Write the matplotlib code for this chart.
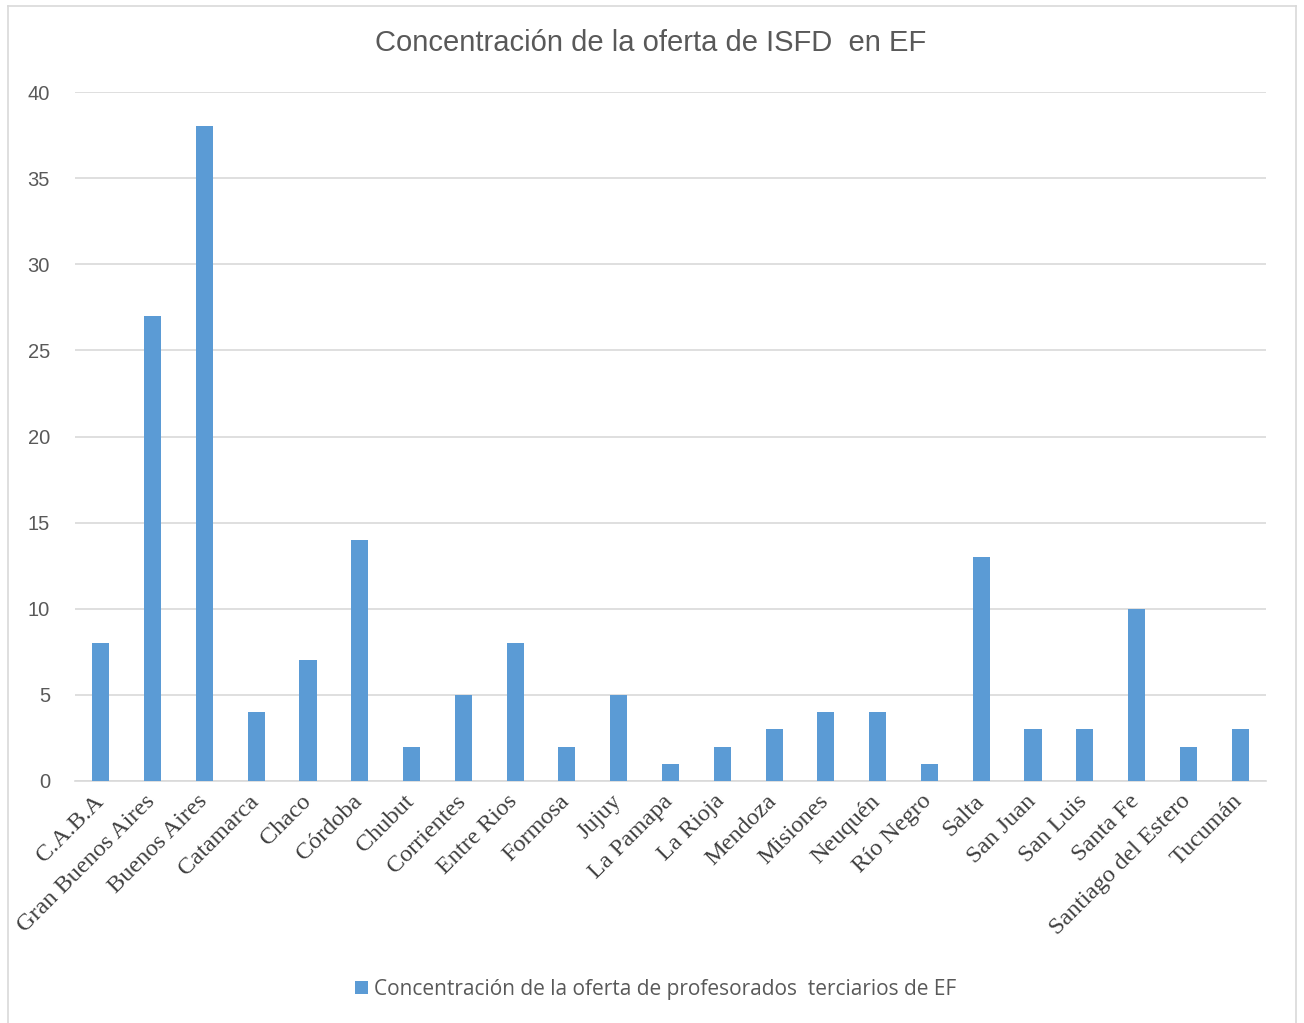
import matplotlib
matplotlib.use("Agg")
import matplotlib.pyplot as plt
import matplotlib.transforms as mtransforms
from matplotlib.lines import Line2D

categories = ["C.A.B.A", "Gran Buenos Aires", "Buenos Aires", "Catamarca", "Chaco",
              "Córdoba", "Chubut", "Corrientes", "Entre Rios", "Formosa", "Jujuy",
              "La Pamapa", "La Rioja", "Mendoza", "Misiones", "Neuquén", "Río Negro",
              "Salta", "San Juan", "San Luis", "Santa Fe", "Santiago del Estero", "Tucumán"]
values = [8, 27, 38, 4, 7, 14, 2, 5, 8, 2, 5, 1, 2, 3, 4, 4, 1, 13, 3, 3, 10, 2, 3]
yticks = [0, 5, 10, 15, 20, 25, 30, 35, 40]
title = "Concentración de la oferta de ISFD  en EF"
legend_label = "Concentración de la oferta de profesorados  terciarios de EF"

W, H = 1304, 1023
fig = plt.figure(figsize=(W / 100, H / 100), dpi=100)
fig.patch.set_facecolor("white")

# outer chart border (no bottom edge visible)
for xs, ys in [([8, 8], [1023, 6]), ([8, 1296], [6, 6]), ([1296, 1296], [6, 1023])]:
    fig.add_artist(Line2D([x / W for x in xs], [1 - y / H for y in ys],
                          color="#D9D9D9", lw=1.2, transform=fig.transFigure))

ax = fig.add_axes([75 / W, 1 - 781 / H, (1266 - 75) / W, (781 - 92) / H])
x = list(range(len(categories)))
bars = ax.bar(x, values, width=0.33, color="#5B9BD5", zorder=3, label=legend_label)
ax.set_xlim(-0.5, len(categories) - 0.5)
ax.set_ylim(0, 40)
ax.set_yticks(yticks)
ax.yaxis.grid(True, color="#D9D9D9", lw=1.2, zorder=0)
for s in ["top", "right", "left"]:
    ax.spines[s].set_visible(False)
ax.spines["bottom"].set_color("#D9D9D9")
ax.spines["bottom"].set_linewidth(1.2)
ax.tick_params(axis="y", length=0, pad=18, labelsize=14.5, labelcolor="#595959")
ax.tick_params(axis="x", length=0, pad=7)
for lab in ax.get_yticklabels():
    lab.set_family(["Liberation Sans", "DejaVu Sans"])
ax.set_xticks(x)
ax.set_xticklabels(categories, rotation=45, ha="right", va="top", rotation_mode="anchor",
                   family=["Liberation Serif", "DejaVu Serif"], fontsize=17.5, color="#404040")
offset = mtransforms.ScaledTranslation(-8 / 100, 0, fig.dpi_scale_trans)
for lab in ax.get_xticklabels():
    lab.set_transform(lab.get_transform() + offset)

fig.text(651 / W, 1 - 43 / H, title, ha="center", va="center", fontsize=21,
         color="#595959", family=["Liberation Sans", "DejaVu Sans"])

leg = fig.legend(handles=[bars], labels=[legend_label], loc="center",
                 bbox_to_anchor=(656 / W, 1 - 989 / H), frameon=False,
                 prop={"family": ["Open Sans", "DejaVu Sans"], "size": 15},
                 handlelength=0.6, handleheight=0.6, handletextpad=0.3)
for t in leg.get_texts():
    t.set_color("#595959")

fig.savefig("out.png", dpi=100, facecolor="white")
